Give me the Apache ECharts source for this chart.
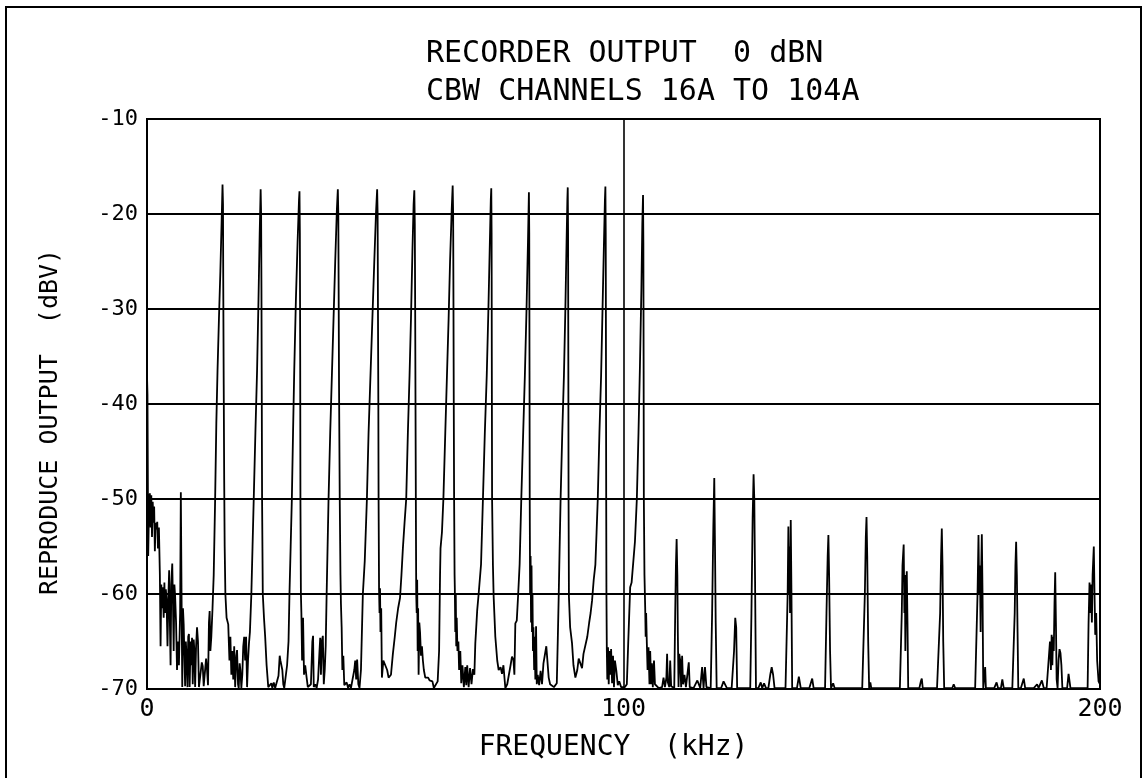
<!DOCTYPE html>
<html>
<head>
<meta charset="utf-8">
<script src="https://cdn.jsdelivr.net/npm/echarts@6/dist/echarts.min.js"></script>
<style>
  html, body { margin: 0; padding: 0; background: #fff; }
  #chart { width: 1147px; height: 778px; }
</style>
</head>
<body>
<div id="chart"></div>
<script>
// ---- text ----
const titleLine1 = 'RECORDER OUTPUT  0 dBN';
const titleLine2 = 'CBW CHANNELS 16A TO 104A';
const xAxisTitle = 'FREQUENCY  (kHz)';
const yAxisTitle = 'REPRODUCE OUTPUT  (dBV)';

// ---- axes ----
const xRange = [0, 200];   // kHz
const xStep = 100;
const yRange = [-70, -10]; // dBV
const yStep = 10;

// ---- spectrum trace [frequency kHz, level dBV] ----
const traceLow = [
  [0.0,-37],[0.1,-39],[0.25,-56],[0.45,-50],[0.6,-49.4],[0.75,-53],[0.9,-49.6],[1.05,-54],[1.2,-50.3],[1.35,-52.5],[1.5,-50.8],[1.65,-55.5],[1.8,-52.5],[2.0,-53.2],[2.15,-52.4],[2.3,-55.2],[2.5,-53],[2.7,-58],[2.85,-65.5],[3.0,-59],[3.15,-61.5],[3.3,-59.3],[3.5,-62.5],[3.65,-58.8],[3.8,-62],[3.95,-59.5],[4.1,-60.5],[4.3,-65.5],[4.5,-60],[4.65,-57.5],[4.8,-63],[4.95,-67.5],[5.1,-59],[5.3,-56.8],[5.45,-61],[5.6,-66],[5.75,-59],[5.9,-60.2],[6.1,-63],[6.3,-68],[6.5,-65],[6.7,-67.5],[6.95,-62],[7.1,-49.3],[7.25,-60],[7.4,-69.8],[7.55,-61.5],[7.7,-63.2],[7.85,-66.5],[8.0,-69.7],[8.15,-65],[8.3,-66.5],[8.5,-69.8],[8.65,-64.5],[8.8,-64.2],[8.95,-69.8],[9.15,-65],[9.3,-67.5],[9.45,-64.6],[9.6,-69.5],[9.8,-64.8],[9.95,-66],[10.1,-69.8],[10.3,-65.5],[10.5,-63.5],[10.7,-65],[10.9,-69.8],[11.2,-69.9],[11.5,-67.2],[11.7,-67.6],[11.9,-69.7],[12.2,-69.8],[12.4,-66.8],[12.6,-68],[12.8,-69.6],[13.0,-63],[13.15,-61.8],[13.3,-66],
  [13.5,-64.5],[13.75,-61.5],[14.0,-58],[14.3,-50],[14.55,-42],[14.8,-36.5],[15.1,-31],[15.4,-26],[15.65,-21],[15.85,-16.9],[15.95,-19],[16.0,-27],[16.1,-38],[16.2,-48],[16.3,-55],[16.45,-60],[16.7,-62.5],[17.05,-63.2],
  [17.3,-67],[17.5,-64.5],[17.7,-68.5],[17.9,-66],[18.1,-69],[18.3,-65.5],[18.5,-69.8],[18.75,-66.5],[18.9,-65.9],[19.1,-69.5],[19.25,-69.9],[19.45,-67.3],[19.6,-68],[19.8,-69.9],[20.0,-68.5],[20.2,-65.5],[20.4,-64.5],[20.6,-67],[20.8,-64.5],[21.0,-69.8],[21.2,-67],[21.4,-65.2],
  [21.6,-64],[21.9,-60],[22.15,-55],[22.4,-50],[22.75,-43],[23.1,-36.5],[23.4,-29],[23.65,-22],[23.85,-17.4],[23.95,-20],[24.02,-28],[24.08,-38],[24.15,-50],[24.3,-60],[24.55,-62.5],[24.8,-64.5],[25.1,-67.5],[25.45,-69.8],
  [25.8,-69.9],[26.1,-69.4],[26.3,-69.9],[26.6,-69.3],[26.9,-69.9],[27.3,-69.9],[27.6,-68.6],[27.85,-66.5],[28.0,-67],[28.2,-66.8],[28.4,-68],[28.6,-69.5],[28.8,-69.9],[29.1,-69.8],[29.4,-67.5],
  [29.7,-65],[29.9,-60],[30.15,-55],[30.4,-50],[30.65,-43],[30.9,-36.5],[31.25,-29],[31.6,-23],[31.9,-18.5],[32.0,-17.6],[32.08,-22],[32.15,-35],[32.2,-50],[32.3,-60],[32.4,-62],[32.55,-67],[32.75,-62.5],[32.95,-68.5],[33.2,-67.5],[33.5,-68.8],[33.75,-69.8],
  [34.0,-69.9],[34.4,-69.5],[34.7,-65],[34.85,-64.4],[35.0,-69.8],[35.3,-69.5],[35.6,-69.9],[35.9,-69],[36.2,-66],[36.35,-64.6],[36.5,-68.5],[36.7,-65],[36.9,-64.4],[37.1,-69.5],[37.3,-68]
];

const traceMid = [
  [37.5,-65.5],[37.7,-60],[37.9,-55],[38.1,-50],[38.45,-43],[38.8,-37],[39.15,-31],[39.5,-25],[39.85,-19.5],[40.05,-17.4],[40.15,-20],[40.22,-28],[40.3,-38],[40.45,-50],[40.6,-58],[40.7,-61],[40.85,-63.5],[41.0,-68],[41.2,-66.5],[41.4,-69.6],[41.7,-69.8],[41.9,-69.3],[42.2,-69.9],[42.5,-69.5],[42.8,-69.9],[43.2,-69.8],[43.5,-68],[43.7,-67],[43.9,-69],[44.1,-66.9],[44.35,-69.5],[44.6,-69.9],
  [44.9,-68],[45.1,-64],[45.3,-60],[45.7,-56.5],[46.15,-50],[46.5,-43],[46.9,-37],[47.3,-31],[47.7,-25],[48.05,-20],[48.3,-17.4],[48.4,-20],[48.47,-30],[48.55,-40],[48.6,-50],[48.7,-59.5],[48.8,-62],[48.9,-59.4],[49.0,-64],[49.15,-61.5],[49.3,-68.8],
  [49.6,-67],[50.0,-66.8],[50.4,-68],[50.7,-68.8],[51.2,-68.5],[51.6,-66.3],[52.0,-64.5],[52.3,-63],[52.7,-61.5],[53.1,-60.4],[53.4,-58],[53.7,-55.2],[54.05,-52.5],[54.4,-50],
  [54.75,-43],[55.1,-37],[55.4,-31],[55.7,-24],[55.95,-19],[56.1,-17.5],[56.2,-21],[56.28,-30],[56.35,-40],[56.42,-50],[56.5,-60],[56.6,-62],[56.7,-58.5],[56.8,-66],[56.9,-61.5],[57.0,-68.5],[57.15,-63],[57.3,-64],[57.5,-66.5],[57.7,-65.5],[57.9,-67],[58.1,-68],[58.4,-68.8],[58.7,-69],[59.0,-68.8],[59.3,-69.1],[59.6,-69],[59.9,-69.2],[60.2,-69.9],[60.6,-69.8],[61.0,-69.2],
  [61.3,-66],[61.5,-58],[61.6,-55.2],[61.9,-53.5],[62.2,-50],[62.6,-43],[62.95,-37],[63.3,-31],[63.6,-25],[63.95,-19.5],[64.15,-17.0],[64.25,-20],[64.32,-30],[64.38,-40],[64.45,-50],[64.55,-58],[64.6,-59.4],[64.7,-64],[64.8,-60],[64.9,-65.5],[65.0,-62.5],[65.15,-66],[65.35,-65],[65.5,-68],[65.75,-66],[65.95,-69.4],[66.2,-67.5],[66.5,-69.8],[66.8,-67.7],[67.0,-69.6],[67.2,-67.5],[67.5,-69.8],[67.8,-67.8],[68.1,-69.5],[68.4,-67.9],[68.7,-68.5]
];

const traceHigh = [
  [68.9,-65.2],[69.3,-61.7],[69.6,-60],[70.1,-56.9],[70.5,-50],[70.9,-43],[71.3,-37],[71.65,-30],[71.95,-23],[72.15,-18.5],[72.25,-17.3],[72.32,-22],[72.36,-35],[72.42,-50],[72.6,-57],[72.75,-60.3],[73.1,-64.5],[73.5,-67],[73.8,-68],[74.2,-67.7],[74.5,-68.4],[74.8,-67.5],[75.2,-69.9],[75.6,-69.5],[75.9,-69.3],[76.3,-67.5],[76.6,-66.6],[76.9,-66.9],[77.1,-68.5],
  [77.3,-63.1],[77.6,-62.8],[77.9,-60],[78.2,-56.9],[78.55,-50],[78.95,-43],[79.3,-37],[79.65,-30],[79.95,-23],[80.15,-17.7],[80.22,-22],[80.27,-35],[80.32,-50],[80.4,-60],[80.5,-56],[80.6,-63],[80.7,-57],[80.8,-64],[80.9,-60],[81.0,-66],[81.1,-63.5],[81.25,-68],[81.35,-64.5],[81.5,-69],[81.65,-63.4],[81.8,-69.5],[82.0,-68.5],[82.3,-69.6],[82.6,-68.1],[82.9,-69.5],[83.2,-67.3],[83.5,-67.3],[83.8,-65.5],[84.05,-65.7],[84.3,-68.8],[84.6,-69.5],[85.0,-69.7],[85.4,-69.8],[85.8,-69.8],[86.0,-69.4],
  [86.2,-65],[86.4,-60.3],[86.6,-55],[86.8,-50],[87.15,-43],[87.5,-37],[87.8,-30],[88.05,-23],[88.22,-18.5],[88.3,-17.2],[88.37,-22],[88.42,-35],[88.47,-50],[88.55,-60.3],[88.8,-63.5],[89.2,-65.2],[89.5,-67.5],[89.9,-68.8],[90.3,-68],[90.6,-66.8],[90.9,-66.6],[91.3,-67.8],[91.6,-66.3],[92.0,-66.3],[92.4,-64.5],[92.8,-63],[93.1,-62],[93.4,-60.7],[93.75,-58.5],[94.1,-56.9],[94.35,-53.5],[94.6,-50],
  [94.95,-43],[95.3,-37],[95.6,-30],[95.9,-23],[96.1,-18.5],[96.2,-17.1],[96.27,-22],[96.32,-35],[96.37,-50],[96.42,-60],[96.5,-65.9],[96.6,-69],[96.75,-65.6],[96.9,-69.5],[97.05,-66],[97.2,-68.5],[97.4,-65.8],[97.6,-69.4],[97.8,-66.5],[98.0,-69.8],[98.2,-67],[98.5,-68.1],[98.8,-69.6],[99.1,-69.2],[99.5,-69.8],[99.9,-69.6],[100.3,-69.8],[100.7,-69.5],
  [101.0,-65],[101.4,-59.3],[101.7,-58.8],[101.95,-59],[102.4,-54.5],[102.8,-50],[103.15,-43],[103.45,-36],[103.75,-28],[103.95,-21],[104.1,-18.0],[104.17,-23],[104.22,-35],[104.27,-50],[104.4,-58],[104.55,-61.4],[104.65,-64.5],[104.75,-62],[104.9,-65.2],[105.05,-68],[105.25,-65.6],[105.45,-69.5],[105.6,-66],[105.8,-69.5],[105.95,-67.3],[106.15,-69.8],[106.4,-67],[106.6,-69.5],[107.0,-69.6],[107.4,-69.9],[107.8,-69.8],[108.1,-69.8],[108.4,-68.8],[108.7,-69.8],[109.0,-68.8],[109.15,-66.3],[109.3,-69.3],[109.6,-69.8],[109.8,-67],[110.0,-69.7],[110.3,-69.9]
];

const traceSpurs = [
  [110.65,-69.9],[110.85,-62],[111.0,-57],[111.15,-54.2],[111.3,-58],[111.4,-64],[111.55,-69.8],[111.7,-66.3],[111.9,-67],[112.1,-69.8],[112.3,-66.5],[112.5,-69.5],[112.8,-68.5],[113.1,-69.8],[113.4,-69.9],[113.7,-67.2],[113.9,-69.8],[114.3,-69.9],[114.7,-69.9],[115.1,-69.9],[115.5,-69.1],[115.8,-69.2],[116.1,-69.9],[116.5,-67.7],[116.8,-69.9],[117.1,-67.7],[117.4,-69.8],[117.8,-69.9],
  [118.3,-69.9],[118.6,-62],[118.85,-53],[119.05,-47.8],[119.2,-55],[119.35,-63],[119.55,-69.9],[120.0,-69.9],[120.5,-69.9],[121.0,-69.2],[121.4,-69.0],[121.7,-69.9],[122.2,-69.9],[122.7,-69.9],[123.2,-66],[123.45,-62.5],[123.65,-63.5],[123.85,-69.9],[124.2,-69.9],[124.7,-69.9],[125.2,-69.9],[125.7,-69.9],
  [126.6,-69.9],[126.85,-62],[127.1,-52],[127.3,-47.4],[127.45,-50],[127.6,-58],[127.8,-69.9],[128.3,-69.9],[128.8,-69.3],[129.1,-69.9],[129.5,-69.4],[129.9,-69.9],[130.4,-69.9],[130.8,-68.5],[131.1,-67.7],[131.4,-68.5],[131.7,-69.9],[132.3,-69.9],[132.9,-69.9],[133.5,-69.9],[134.0,-69.9],
  [134.3,-69.9],[134.45,-60],[134.6,-52.9],[134.75,-60],[134.85,-55],[134.95,-62],[135.1,-52.2],[135.25,-60],[135.4,-69.9],[135.9,-69.9],[136.4,-69.9],[136.8,-68.7],[137.2,-69.9],[137.8,-69.9],[138.4,-69.9],[139.0,-69.9],[139.6,-68.9],[139.9,-69.9],[140.4,-69.9],[141.0,-69.9],
  [142.3,-69.9],[142.6,-62],[142.85,-56],[143.0,-53.8],[143.15,-58],[143.35,-66],[143.55,-69.9],[144.0,-69.4],[144.3,-69.9],[144.8,-69.9],[145.5,-69.9],[146.2,-69.9],[146.9,-69.9],[147.6,-69.9],[148.3,-69.9],[149.0,-69.9],[149.6,-69.9],[150.1,-69.9],
  [150.4,-69.9],[150.65,-60],[150.85,-54],[151.0,-51.9],[151.15,-56],[151.35,-65],[151.55,-69.9],[151.8,-69.3],[152.0,-69.9],[152.7,-69.9],[153.4,-69.9],[154.1,-69.9],[154.8,-69.9],[155.5,-69.9],[156.2,-69.9],[156.9,-69.9],[157.5,-69.9],[158.0,-69.9],
  [158.2,-69.9],[158.4,-62],[158.55,-57],[158.8,-54.8],[158.95,-62],[159.05,-58],[159.15,-66],[159.3,-60],[159.45,-57.6],[159.6,-63],[159.75,-69.9],[160.3,-69.9],[160.9,-69.9],[161.5,-69.9],[162.1,-69.9],[162.4,-69.2],[162.6,-68.9],[162.8,-69.9],[163.4,-69.9],[164.0,-69.9],[164.6,-69.9],[165.2,-69.9],[165.8,-69.9],
  [166.2,-69.9],[166.45,-62],[166.65,-56],[166.8,-53.1],[166.95,-57],[167.1,-65],[167.3,-69.9],[167.9,-69.9],[168.5,-69.9],[169.0,-69.9],[169.3,-69.5],[169.6,-69.9],[170.2,-69.9],[170.8,-69.9],[171.4,-69.9],[172.0,-69.9],[172.6,-69.9],[173.2,-69.9],[173.8,-69.9],
  [174.1,-69.9],[174.3,-60],[174.5,-53.8],[174.65,-60],[174.8,-57],[174.95,-64],[175.05,-58],[175.2,-53.7],[175.35,-60],[175.5,-69.9],[175.7,-69.9],[175.9,-67.7],[176.05,-69.9],[176.6,-69.9],[177.2,-69.9],[177.8,-69.9],[178.3,-69.3],[178.6,-69.9],[179.2,-69.9],[179.5,-69.0],[179.8,-69.9],[180.4,-69.9],[181.0,-69.9],[181.6,-69.9],
  [181.9,-69.9],[182.1,-62],[182.25,-57],[182.4,-54.5],[182.55,-58],[182.7,-64],[182.85,-69.9],[183.4,-69.9],[184.0,-68.9],[184.3,-69.9],[184.9,-69.9],[185.5,-69.9],[186.1,-69.9],[186.5,-69.9],[186.8,-69.5],[187.1,-69.9],[187.8,-69.1],[188.2,-69.9],[188.8,-69.9],
  [189.2,-69.9],[189.5,-65],[189.7,-68],[189.85,-64.3],[190.0,-67.5],[190.15,-64.5],[190.3,-66],[190.45,-61],[190.6,-57.7],[190.75,-63],[190.9,-69],[191.1,-69.9],[191.3,-67],[191.5,-65.8],[191.7,-66.2],[191.9,-67.5],[192.1,-69.9],[192.6,-69.9],[193.1,-69.9],[193.4,-68.4],[193.8,-69.9],[194.4,-69.9],[195.0,-69.9],[195.6,-69.9],[196.2,-69.9],[196.8,-69.9],[197.2,-69.9],
  [197.4,-69.9],[197.6,-63],[197.8,-58.8],[197.95,-62],[198.1,-59],[198.3,-63],[198.45,-58],[198.7,-55],[198.85,-60],[199.0,-64.3],[199.2,-62],[199.4,-67],[199.7,-69.2],[200,-69.5]
];

const trace = traceLow.concat(traceMid, traceHigh, traceSpurs);

const FONT = 'DejaVu Sans Mono';
const INK = '#000';

const chart = echarts.init(document.getElementById('chart'), null, { renderer: 'canvas' });
chart.setOption({
  animation: false,
  backgroundColor: '#fff',
  title: [
    { text: titleLine1, left: 421, top: 34,
      textStyle: { fontFamily: FONT, fontSize: 30, fontWeight: 'normal', color: INK } },
    { text: titleLine2, left: 421, top: 72,
      textStyle: { fontFamily: FONT, fontSize: 30, fontWeight: 'normal', color: INK } }
  ],
  graphic: [{
    type: 'rect', silent: true, z: 100,
    shape: { x: 6, y: 7, width: 1135, height: 800 },
    style: { fill: 'none', stroke: INK, lineWidth: 2 }
  }],
  grid: { left: 147, right: 47, top: 119, bottom: 89, show: true, borderColor: INK, borderWidth: 2 },
  xAxis: {
    type: 'value', min: xRange[0], max: xRange[1], interval: xStep,
    name: xAxisTitle, nameLocation: 'middle', nameGap: 45,
    nameTextStyle: { fontFamily: FONT, fontSize: 28, color: INK, padding: [0, 20, 0, 0] },
    axisLine: { show: true, lineStyle: { color: INK, width: 2 } },
    axisTick: { show: false },
    axisLabel: { fontFamily: FONT, fontSize: 25, color: INK, margin: 8 },
    splitLine: { show: true, lineStyle: { color: INK, width: 1.6 } }
  },
  yAxis: {
    type: 'value', min: yRange[0], max: yRange[1], interval: yStep,
    name: yAxisTitle, nameLocation: 'middle', nameRotate: 90, nameGap: 84,
    nameTextStyle: { fontFamily: FONT, fontSize: 25, color: INK, padding: [0, 36, 0, 0] },
    axisLine: { show: true, lineStyle: { color: INK, width: 2 } },
    axisTick: { show: false },
    axisLabel: { fontFamily: FONT, fontSize: 22, color: INK, margin: 9 },
    splitLine: { show: true, lineStyle: { color: INK, width: 2 } }
  },
  series: [{
    type: 'line',
    data: trace,
    showSymbol: false,
    symbol: 'none',
    smooth: false,
    clip: true,
    lineStyle: { color: INK, width: 1.8 },
    z: 3
  }]
});
</script>
</body>
</html>
